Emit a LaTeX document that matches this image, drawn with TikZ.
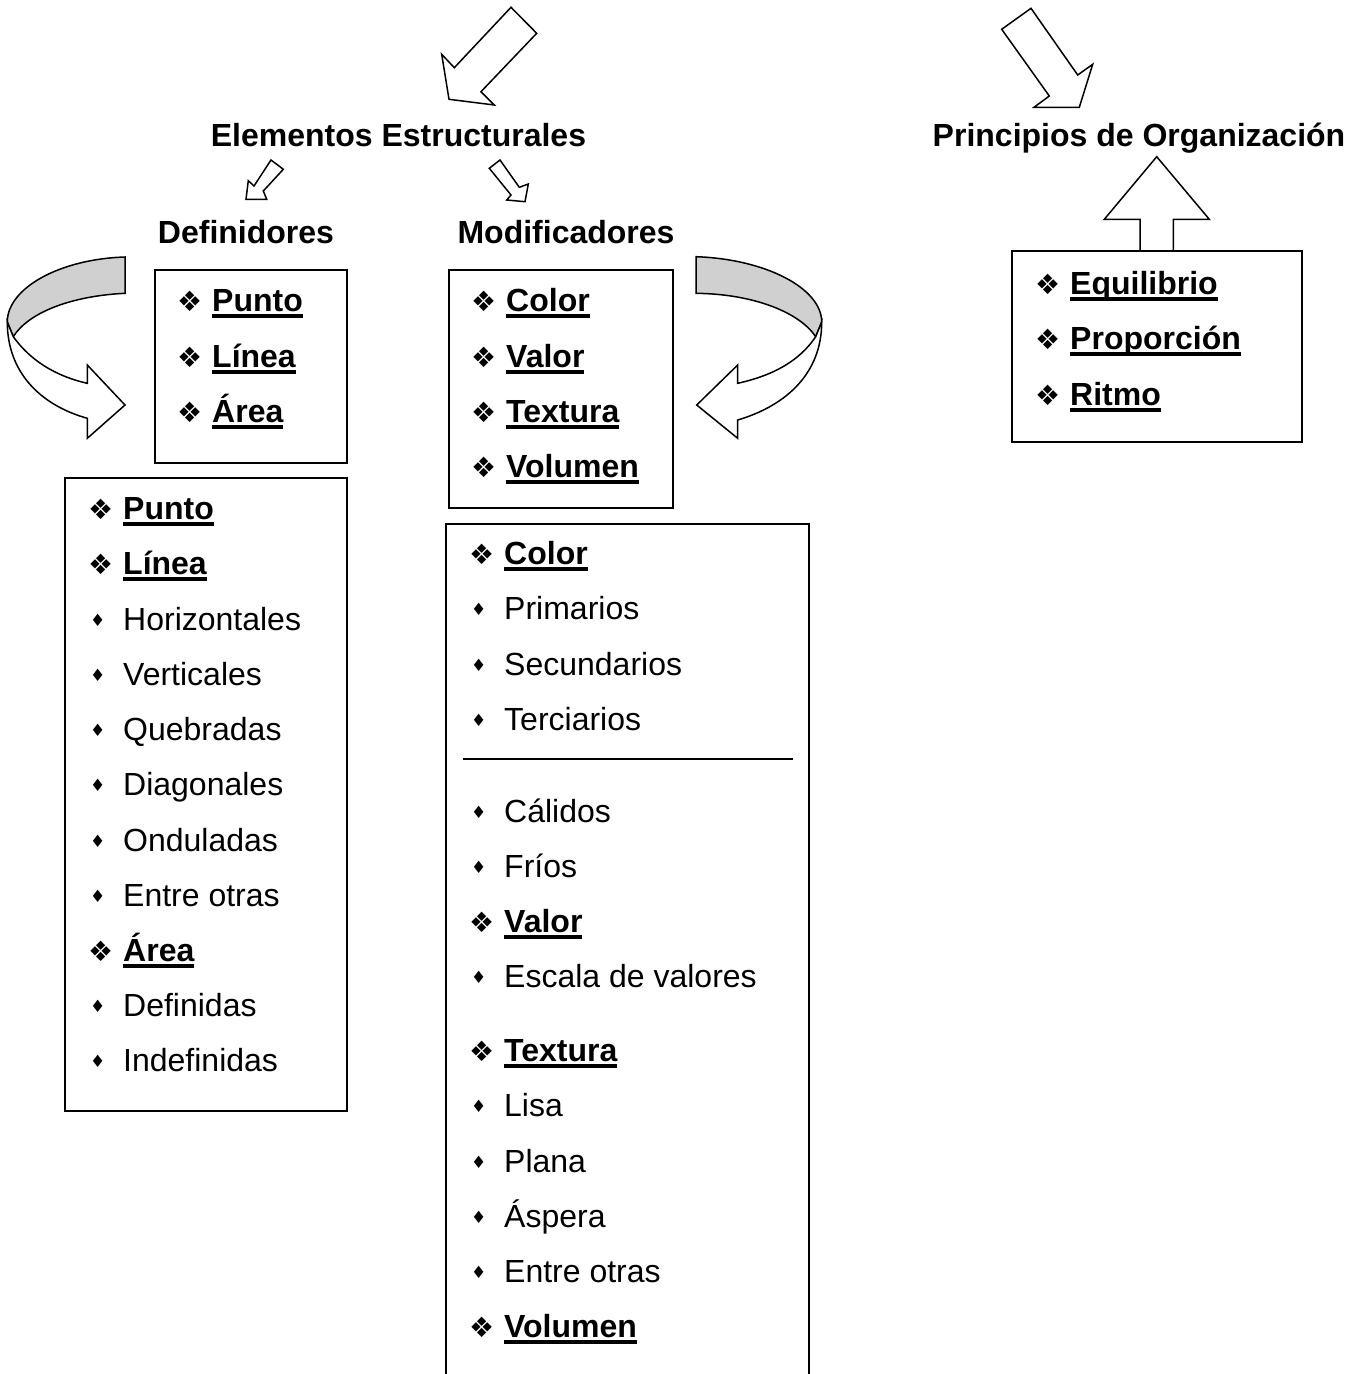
\documentclass[tikz,border=0pt]{standalone}
\usepackage{fontspec}
\setmainfont{Liberation Sans}
\newfontfamily\symfont{DejaVu Sans}
\usetikzlibrary{positioning}
\definecolor{bandgray}{RGB}{208,208,208}

\newsavebox{\ulbox}
\newcommand{\ulword}[1]{\sbox{\ulbox}{#1}\rlap{\rule[-6pt]{\wd\ulbox}{4pt}}\usebox{\ulbox}}
\newcommand{\itemhd}[1]{\makebox[35pt][l]{\fontsize{28}{28}\symfont ❖}\textbf{\ulword{#1}}}
\newcommand{\itemsub}[1]{\makebox[35pt][l]{\hspace{2pt}\raisebox{4pt}{\fontsize{17}{17}\symfont ♦}}#1}

\begin{document}
\begin{tikzpicture}[x=1pt, y=-1pt,
  heading/.style={font=\bfseries\fontsize{32}{38}\selectfont, anchor=base, inner sep=0pt},
  entry/.style={font=\fontsize{32}{38}\selectfont, anchor=base west, inner sep=0pt},
  listbox/.style={draw, line width=1.6pt, inner sep=0pt},
  blockarrow/.style={draw, fill=white, line width=1.5pt},
  band/.style={draw, fill=bandgray, line width=1.5pt}]
  \useasboundingbox (0,0) rectangle (1356,1374);

  % Big arrows from the top
  \draw[blockarrow] (511,7.3) -- (536.7,33.3) -- (481,91.7) -- (494.3,105) -- (449,99.3) -- (441.7,54.3) -- (454.3,67.7) -- cycle;
  \draw[blockarrow] (1031,8.3) -- (1077.7,75) -- (1092.7,64.3) -- (1079.3,107.3) -- (1034,107.3) -- (1049.3,96) -- (1001.7,29.3) -- cycle;

  % Headings
  \node[heading] (estruct) at (398.5,146.5) {Elementos Estructurales};
  \node[heading] (princ) at (1139,146.5) {Principios de Organización};
  \node[heading] (defin) at (246,243.5) {Definidores};
  \node[heading] (modif) at (566,243.5) {Modificadores};

  % Small arrows
  \draw[blockarrow] (271,160) -- (283.3,169.3) -- (263.3,191) -- (266.7,199.3) -- (246,199.3) -- (248.3,180.7) -- (254,186) -- cycle;
  \draw[blockarrow] (500,160) -- (519.3,187.3) -- (528.3,184) -- (525,201.7) -- (506.7,200) -- (511,195) -- (489.3,168.3) -- cycle;

  % Curved arrow left
  \draw[band] (125,257) .. controls (60,259) and (7.3,288) .. (7.3,322) -- (13.3,336.7) .. controls (28,313) and (70,296) .. (125,293.3) -- cycle;
  \draw[blockarrow] (7.3,322) .. controls (7.3,372) and (40,405) .. (87.3,418.3) -- (87.3,438.3) -- (125,405) -- (87.3,365) -- (87.3,383.3) .. controls (55,376) and (30,360) .. (13.3,336.7) -- cycle;

  % Curved arrow right
  \draw[band] (696,256.7) .. controls (765,259) and (821.7,288) .. (821.7,322) -- (815.7,336.7) .. controls (800,313) and (755,294) .. (696,293.3) -- cycle;
  \draw[blockarrow] (821.7,322) .. controls (821.7,372) and (788,405) .. (737.7,420) -- (737.7,438.3) -- (696.7,405) -- (737.7,365) -- (737.7,383.3) .. controls (775,375) and (800,360) .. (815.7,336.7) -- cycle;

  % Up arrow
  \draw[blockarrow] (1140,251) -- (1140,219.3) -- (1104.3,219.3) -- (1156.7,156.7) -- (1209.3,219.3) -- (1173.3,219.3) -- (1173.3,251) -- cycle;

  % Boxes
  \node[listbox, minimum width=192pt, minimum height=193pt] (defbox) at (251,366.5) {};
  \node[listbox, minimum width=224pt, minimum height=238pt] (modbox) at (561,389) {};
  \node[listbox, minimum width=282pt, minimum height=633pt] (deflist) at (206,794.5) {};
  \node[listbox, minimum width=290pt, minimum height=191pt] (princbox) at (1157,346.5) {};
  \draw[line width=1.6pt] (446,1374) |- (809,524) -- (809,1374);
  \draw[line width=1.4pt] (463,759) -- (793,759);

  % Entries
  \foreach \y/\txt [count=\i] in {311.5/{\itemhd{Punto}}, 367.5/{\itemhd{Línea}}, 422.5/{\itemhd{Área}}}
    \node[entry] (defbox-\i) at (177,\y) {\txt};

  \foreach \y/\txt [count=\i] in {311.5/{\itemhd{Color}}, 367.5/{\itemhd{Valor}}, 422.5/{\itemhd{Textura}}, 477.5/{\itemhd{Volumen}}}
    \node[entry] (modbox-\i) at (471,\y) {\txt};

  \foreach \y/\txt [count=\i] in {519.5/{\itemhd{Punto}}, 574.5/{\itemhd{Línea}}, 630.5/{\itemsub{Horizontales}},
      685.5/{\itemsub{Verticales}}, 740.5/{\itemsub{Quebradas}}, 795.5/{\itemsub{Diagonales}},
      851.5/{\itemsub{Onduladas}}, 906.5/{\itemsub{Entre otras}}, 961.5/{\itemhd{Área}},
      1016.5/{\itemsub{Definidas}}, 1071.5/{\itemsub{Indefinidas}}}
    \node[entry] (deflist-\i) at (88,\y) {\txt};

  \foreach \y/\txt [count=\i] in {564.5/{\itemhd{Color}}, 619.5/{\itemsub{Primarios}}, 675.5/{\itemsub{Secundarios}},
      730.5/{\itemsub{Terciarios}}, 822.5/{\itemsub{Cálidos}}, 877.5/{\itemsub{Fríos}},
      932.5/{\itemhd{Valor}}, 987.5/{\itemsub{Escala de valores}}, 1061.5/{\itemhd{Textura}},
      1116.5/{\itemsub{Lisa}}, 1172.5/{\itemsub{Plana}}, 1227.5/{\itemsub{Áspera}},
      1282.5/{\itemsub{Entre otras}}, 1337.5/{\itemhd{Volumen}}}
    \node[entry] (modlist-\i) at (469,\y) {\txt};

  \foreach \y/\txt [count=\i] in {294.5/{\itemhd{Equilibrio}}, 349.5/{\itemhd{Proporción}}, 405.5/{\itemhd{Ritmo}}}
    \node[entry] (princbox-\i) at (1035,\y) {\txt};
\end{tikzpicture}
\end{document}
